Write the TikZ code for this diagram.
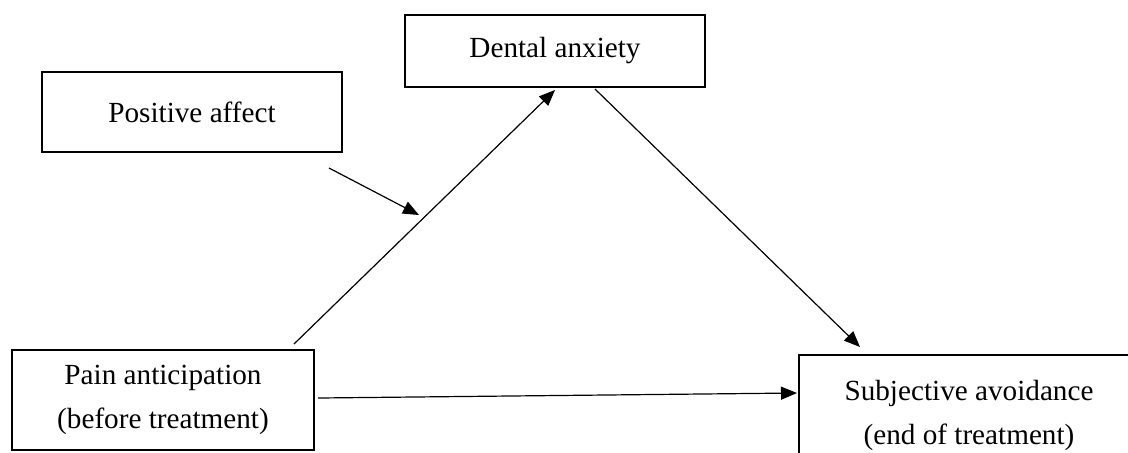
\documentclass[tikz,border=0pt]{standalone}
\usepackage{fontspec}
\setmainfont{Liberation Serif}
\usepackage{tikz}
\usetikzlibrary{calc,arrows.meta}

\tikzset{
  varbox/.style={draw, line width=1pt, rectangle, align=center, inner sep=0pt,
    font=\fontsize{14.6}{22}\selectfont},
  path/.style={line width=0.6pt, -{Triangle[length=8pt,width=6.5pt]}}
}

\begin{document}
\begin{tikzpicture}[x=0.5pt,y=-0.5pt]
  \useasboundingbox (0,0) rectangle (1128,452);
  \clip (0,0) rectangle (1128,452);

  \node[varbox, minimum width=150pt, minimum height=36pt] (anx) at (555,51) {Dental anxiety};
  \node[varbox, minimum width=150pt, minimum height=40pt] (pos) at (192,112) {Positive affect};
  \node[varbox, minimum width=151pt, minimum height=50pt] (pain) at (163,400)
    {Pain anticipation\\(before treatment)};
  \node[varbox, minimum width=170pt, minimum height=60pt, anchor=north west] (avoid) at (798,354)
    {Subjective avoidance\\(end of treatment)};

  % free ends of the paths
  \coordinate (a1) at ($(pain.north east)+(-21,-5)$);
  \coordinate (a2) at ($(anx.south)+(0,2)$);
  \coordinate (b1) at ($(anx.south)+(40,1)$);
  \coordinate (b2) at ($(avoid.north west)+(62,-7)$);
  \coordinate (c1) at ($(pain.east)+(3,-2)$);
  \coordinate (c2) at ($(avoid.north west)+(-1,39)$);
  \coordinate (d1) at ($(pos.south east)+(-14,15)$);
  \coordinate (d2) at (419,215);

  \draw[path] (a1) -- (a2);
  \draw[path] (b1) -- (b2);
  \draw[path] (c1) -- (c2);
  \draw[path] (d1) -- (d2);
\end{tikzpicture}
\end{document}
